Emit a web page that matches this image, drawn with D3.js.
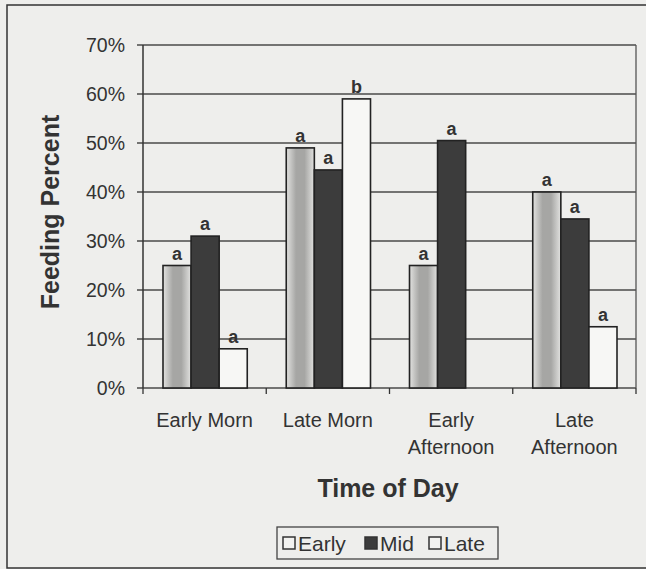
<!DOCTYPE html>
<html>
<head>
<meta charset="utf-8">
<script src="https://cdn.jsdelivr.net/npm/d3@7"></script>
<style>
    body { margin: 0; background: #eeeeec; }
    svg { display: block; font-family: Arial, "Liberation Sans", sans-serif; }
</style>
</head>
<body>
<div id="chart"></div>
<script>
// Categories on the x axis (each entry holds the lines of the label).
const categories = ["Early Morn", "Late Morn", "Early Afternoon", "Late Afternoon"];
const categoryLines = [["Early Morn"], ["Late Morn"], ["Early", "Afternoon"], ["Late", "Afternoon"]];

// Series names and their values (percent).
const seriesNames = ["Early", "Mid", "Late"];
const earlyValues = [25, 49, 25, 40];
const midValues = [31, 44.5, 50.5, 34.5];
const lateValues = [8, 59, null, 12.5];

// Significance letters above each bar.
const earlyLetters = ["a", "a", "a", "a"];
const midLetters = ["a", "a", "a", "a"];
const lateLetters = ["a", "b", "", "a"];

// Y axis ticks.
const yTicks = [0, 10, 20, 30, 40, 50, 60, 70];

function drawChart() {

    let width = 646, height = 569;
    let margin = { top: 45, right: 10, bottom: 181, left: 143 };
    let plotW = 636 - margin.left;
    let plotH = 388 - margin.top;

    let svg = d3.select("#chart")
        .append("svg")
        .attr("width", width)
        .attr("height", height);

    // Fill styles for the three series.
    let defs = svg.append("defs");
    let grad = defs.append("linearGradient").attr("id", "earlyFill");
    grad.append("stop").attr("offset", "0%").attr("stop-color", "#e2e2e0");
    grad.append("stop").attr("offset", "35%").attr("stop-color", "#a6a6a4");
    grad.append("stop").attr("offset", "65%").attr("stop-color", "#a6a6a4");
    grad.append("stop").attr("offset", "100%").attr("stop-color", "#e2e2e0");
    const fills = ["url(#earlyFill)", "#3c3c3c", "#f7f7f5"];

    // Outer frame.
    svg.append("rect")
        .attr("x", 7).attr("y", 5)
        .attr("width", 660).attr("height", 563)
        .attr("fill", "none")
        .attr("stroke", "#333")
        .attr("stroke-width", 1.5);

    let g = svg.append("g")
        .attr("transform", "translate(" + margin.left + "," + margin.top + ")");

    // Scales.
    let x = d3.scaleBand().domain(categories).range([0, plotW]).padding(0);
    let x1 = d3.scaleBand().domain(seriesNames)
        .range([20, x.bandwidth() - 19]).padding(0);
    let y = d3.scaleLinear().domain([0, 70]).range([plotH, 0]);

    // Gridlines with tick marks.
    g.append("g")
        .selectAll("line")
        .data(yTicks)
        .enter()
        .append("line")
        .attr("x1", -6).attr("x2", plotW)
        .attr("y1", d => y(d)).attr("y2", d => y(d))
        .attr("stroke", "#4a4a4a")
        .attr("stroke-width", 1.3);

    // Y tick labels.
    g.append("g")
        .selectAll("text")
        .data(yTicks)
        .enter()
        .append("text")
        .attr("x", -18)
        .attr("y", d => y(d))
        .attr("dy", "0.36em")
        .attr("text-anchor", "end")
        .attr("font-size", 19.5)
        .attr("fill", "#333")
        .text(d => d + "%");

    // Axis lines.
    g.append("line")
        .attr("x1", 0).attr("x2", 0).attr("y1", 0).attr("y2", plotH)
        .attr("stroke", "#333").attr("stroke-width", 1.5);
    g.append("line")
        .attr("x1", plotW).attr("x2", plotW).attr("y1", 0).attr("y2", plotH)
        .attr("stroke", "#555").attr("stroke-width", 1.3);

    // X axis with tick marks between categories.
    g.append("g")
        .attr("transform", "translate(0," + plotH + ")")
        .selectAll("line")
        .data(d3.range(categories.length + 1))
        .enter()
        .append("line")
        .attr("x1", d => d * x.step()).attr("x2", d => d * x.step())
        .attr("y1", 0).attr("y2", 6)
        .attr("stroke", "#333").attr("stroke-width", 1.3);

    // Category labels.
    let catLabels = g.append("g")
        .selectAll("text")
        .data(categories)
        .enter()
        .append("text")
        .attr("x", d => x(d) + x.bandwidth() / 2)
        .attr("y", plotH + 39)
        .attr("text-anchor", "middle")
        .attr("font-size", 20)
        .attr("fill", "#333");
    catLabels.each(function (d, i) {
        d3.select(this).selectAll("tspan")
            .data(categoryLines[i])
            .enter()
            .append("tspan")
            .attr("x", x(d) + x.bandwidth() / 2)
            .attr("dy", (t, j) => j === 0 ? 0 : 27)
            .text(t => t);
    });

    // Build the bar rows.
    const allValues = [earlyValues, midValues, lateValues];
    const allLetters = [earlyLetters, midLetters, lateLetters];
    let bars = [];
    categories.forEach((c, i) => {
        seriesNames.forEach((s, k) => {
            if (allValues[k][i] !== null) {
                bars.push({ cat: c, series: s, k: k, value: allValues[k][i], letter: allLetters[k][i] });
            }
        });
    });

    // Draw the bars.
    g.append("g")
        .selectAll("rect")
        .data(bars)
        .enter()
        .append("rect")
        .attr("x", d => x(d.cat) + x1(d.series))
        .attr("y", d => y(d.value))
        .attr("width", x1.bandwidth())
        .attr("height", d => plotH - y(d.value))
        .attr("fill", d => fills[d.k])
        .attr("stroke", "#222")
        .attr("stroke-width", 1.6);

    // Letters above the bars.
    g.append("g")
        .selectAll("text")
        .data(bars)
        .enter()
        .append("text")
        .attr("x", d => x(d.cat) + x1(d.series) + x1.bandwidth() / 2)
        .attr("y", d => y(d.value) - 6)
        .attr("text-anchor", "middle")
        .attr("font-size", 18)
        .attr("font-weight", "bold")
        .attr("fill", "#333")
        .text(d => d.letter);

    // Y axis title.
    svg.append("text")
        .attr("transform", "translate(59,212) rotate(-90)")
        .attr("text-anchor", "middle")
        .attr("font-size", 25)
        .attr("font-weight", "bold")
        .attr("fill", "#333")
        .text("Feeding Percent");

    // X axis title.
    svg.append("text")
        .attr("x", 388).attr("y", 497)
        .attr("text-anchor", "middle")
        .attr("font-size", 25)
        .attr("font-weight", "bold")
        .attr("fill", "#333")
        .text("Time of Day");

    // Legend.
    let legend = svg.append("g").attr("transform", "translate(277,527)");
    legend.append("rect")
        .attr("width", 221).attr("height", 32)
        .attr("fill", "none")
        .attr("stroke", "#444").attr("stroke-width", 1.3);
    const legendX = [6, 88, 152];
    let items = legend.selectAll("g.item")
        .data(seriesNames)
        .enter()
        .append("g")
        .attr("class", "item")
        .attr("transform", (d, i) => "translate(" + legendX[i] + ",0)");
    items.append("rect")
        .attr("x", 0).attr("y", 10)
        .attr("width", 12).attr("height", 12)
        .attr("fill", (d, i) => i === 1 ? fills[1] : "#f2f2f0")
        .attr("stroke", "#333").attr("stroke-width", 1.5);
    items.append("text")
        .attr("x", 15).attr("y", 24)
        .attr("font-size", 21)
        .attr("fill", "#333")
        .text(d => d);
}

drawChart();
</script>
</body>
</html>
